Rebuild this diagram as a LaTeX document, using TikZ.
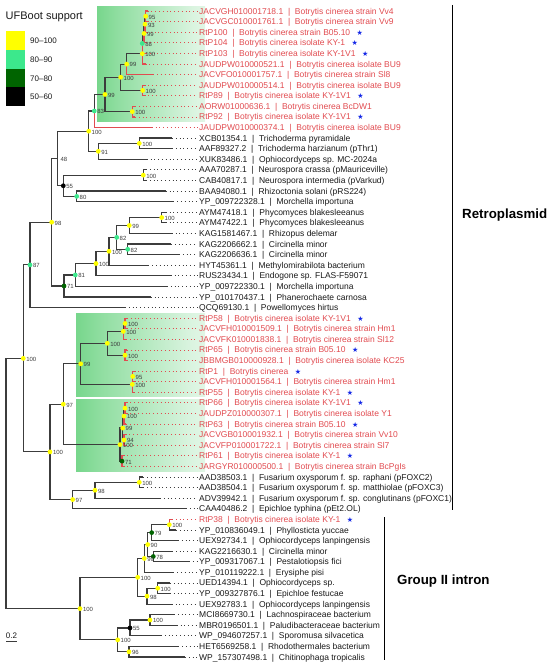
\documentclass[tikz,border=0pt]{standalone}
\usepackage{fontspec}
\setmainfont{Liberation Sans}
\newfontfamily\symf{DejaVu Sans}
\usetikzlibrary{calc}
\definecolor{redc}{RGB}{225,75,80}
\definecolor{brc}{RGB}{60,60,60}
\definecolor{txtc}{RGB}{25,25,25}
\definecolor{yel}{RGB}{255,255,0}
\definecolor{aqua}{RGB}{60,232,140}
\definecolor{dgreen}{RGB}{0,100,0}
\definecolor{boxg}{RGB}{55,195,85}
\colorlet{boxm}{boxg!55!white}
\colorlet{boxl}{boxg!18!white}
\definecolor{starc}{RGB}{20,40,230}
\pgfdeclarehorizontalshading{fadeg}{100bp}{color(0bp)=(boxg); color(35bp)=(boxm); color(70bp)=(boxl); color(100bp)=(white)}
\newcommand\lfont{\fontsize{8.5}{9}\selectfont}
\newcommand\nfont{\fontsize{6}{6}\selectfont}
\newcommand\rstar{\hspace{6.5pt}{\symf\fontsize{7}{7}\selectfont\textcolor{starc}{★}}}
\tikzset{
 br/.style={line width=1.2pt, draw=brc},
 rbr/.style={line width=1.2pt, draw=redc},
 dots/.style={draw=brc, line width=0.8pt, dash pattern=on 0.9pt off 2.9pt},
 rdots/.style={dots, draw=redc},
 lab/.style={anchor=west, inner sep=0pt, font=\lfont, text=txtc, text height=6.1pt, text depth=0pt},
 rlab/.style={lab, text=redc},
 dotn/.style={circle, inner sep=0pt, minimum size=4.8pt, draw=none},
 nlab/.style={anchor=west, inner sep=0pt, font=\nfont, text=brc},
 clade/.style={anchor=west, inner sep=0pt, font=\fontsize{13.3}{14}\selectfont\bfseries, text=black},
 bar/.style={line width=1.5pt, draw=black},
 hbox/.style={shading=fadeg, shading angle=0}
}
\newcommand\lfR[5]{\coordinate (p#1) at (#2,#3); \node[rlab] (t#1) at (199,#3) {#5}; \draw[rdots] (p#1) -- ([xshift=-1.5pt]t#1.west); \draw[rbr] (#4) |- (p#1);}
\newcommand\lfB[5]{\coordinate (p#1) at (#2,#3); \node[lab] (t#1) at (199,#3) {#5}; \draw[dots] (p#1) -- ([xshift=-1.5pt]t#1.west); \draw[br] (#4) |- (p#1);}
\newcommand\nd[3]{\node[dotn, fill=#2] at (#1) {}; \node[nlab] at ([shift={(2.8,0.8)}]#1) {#3};}
\begin{document}
\begin{tikzpicture}[x=1pt,y=-1pt]
\useasboundingbox (0,0) rectangle (550,668);
% highlight boxes
\shade[hbox] (97,7) rectangle (205,122);
\shade[hbox] (76,313) rectangle (205,396);
\shade[hbox] (76,399) rectangle (205,471);
% legend
\node[anchor=west, inner sep=0pt, font=\fontsize{11}{12}\selectfont, text=txtc] (legt) at (5.5,17) {UFBoot support};
\fill[yel] (6,31) rectangle (25,50);
\fill[aqua] (6,50) rectangle (25,69);
\fill[dgreen] (6,69) rectangle (25,87.5);
\fill[black] (6,87.5) rectangle (25,106);
\node[anchor=west, inner sep=0pt, font=\fontsize{8}{8}\selectfont, text=txtc] (lg1) at (30,41) {90–100};
\node[anchor=west, inner sep=0pt, font=\fontsize{8}{8}\selectfont, text=txtc] (lg2) at (30,60) {80–90};
\node[anchor=west, inner sep=0pt, font=\fontsize{8}{8}\selectfont, text=txtc] (lg3) at (30,78.5) {70–80};
\node[anchor=west, inner sep=0pt, font=\fontsize{8}{8}\selectfont, text=txtc] (lg4) at (30,97) {50–60};
% internal nodes
\coordinate (n95) at (145.7,16.30);
\coordinate (n93) at (145.0,24.24);
\coordinate (n99a) at (144.0,33.51);
\coordinate (n88) at (142.3,43.44);
\coordinate (n100a) at (142.3,53.70);
\coordinate (n99b) at (126.7,64.13);
\coordinate (n100b) at (142.7,90.44);
\coordinate (n100c) at (120.7,77.28);
\coordinate (n100d) at (132.3,111.62);
\coordinate (n99c) at (105.0,94.45);
\coordinate (n83) at (94.3,110.98);
\coordinate (n100e) at (139.3,143.40);
\coordinate (n91) at (98.3,151.34);
\coordinate (n100f) at (88.7,131.16);
\coordinate (n100g) at (143.3,175.17);
\coordinate (n80) at (76.7,196.36);
\coordinate (n55) at (63.3,185.76);
\coordinate (n48) at (57.5,158.46);
\coordinate (n100h) at (161.7,217.54);
\coordinate (n99d) at (129.3,225.48);
\coordinate (n82b) at (127.7,249.31);
\coordinate (n82a) at (116.7,237.40);
\coordinate (n100i) at (109.0,251.30);
\coordinate (n100j) at (96.0,263.54);
\coordinate (n81) at (75.3,274.96);
\coordinate (n71) at (64.0,285.97);
\coordinate (n98) at (51.7,222.22);
\coordinate (n87) at (30.0,264.89);
\coordinate (n100k) at (125.0,323.46);
\coordinate (n100l) at (123.3,331.40);
\coordinate (n100m) at (125.0,355.23);
\coordinate (n100n) at (107.3,343.31);
\coordinate (n95b) at (132.7,376.41);
\coordinate (n100o) at (132.3,384.36);
\coordinate (n99e) at (80.7,363.84);
\coordinate (nA) at (125.0,408.19);
\coordinate (nB) at (124.0,416.13);
\coordinate (nC) at (124.0,439.96);
\coordinate (n99f) at (122.7,428.05);
\coordinate (n71b) at (122.0,461.15);
\coordinate (n100p) at (120.0,444.60);
\coordinate (n97a) at (63.3,404.22);
\coordinate (n100q) at (139.3,482.33);
\coordinate (n98b) at (95.0,490.27);
\coordinate (n97b) at (72.7,499.54);
\coordinate (n100r) at (50.0,451.88);
\coordinate (n100s) at (23.3,358.39);
\coordinate (n100t) at (169.3,524.69);
\coordinate (n79) at (151.7,532.63);
\coordinate (n78) at (153.3,556.46);
\coordinate (n90) at (147.7,544.55);
\coordinate (n99g) at (144.3,558.45);
\coordinate (n100u) at (157.7,588.23);
\coordinate (n98c) at (147.0,596.17);
\coordinate (n100v) at (137.7,577.31);
\coordinate (n100w) at (150.0,620.00);
\coordinate (n55b) at (130.0,627.95);
\coordinate (n96) at (129.0,651.78);
\coordinate (n100x) at (117.7,639.87);
\coordinate (n100y) at (80.0,608.59);
\coordinate (root) at (6.0,483.49);
% internal edges
\foreach \c/\p in {n95/n93,n93/n99a,n99a/n88,n88/n100a,n100a/n99b,n99b/n100c,n100b/n100c,n100c/n99c,n100d/n99c,n99c/n83,n83/n100f,n100e/n91,n91/n100f,n100f/n48,n100g/n55,n80/n55,n55/n48,n48/n98,n100h/n99d,n99d/n82a,n82b/n82a,n82a/n100i,n100i/n100j,n100j/n81,n81/n71,n71/n98,n98/n87,n87/n100s,n100k/n100l,n100l/n100n,n100m/n100n,n100n/n99e,n95b/n100o,n100o/n99e,n99e/n97a,nA/nB,nB/n99f,nC/n99f,n99f/n100p,n71b/n100p,n100p/n97a,n97a/n100r,n100q/n98b,n98b/n97b,n97b/n100r,n100r/n100s,n100s/root,n100t/n79,n79/n90,n78/n90,n90/n99g,n99g/n100v,n100u/n98c,n98c/n100v,n100v/n100y,n100w/n55b,n55b/n100x,n96/n100x,n100x/n100y,n100y/root}
  \draw[br] (\p) |- (\c);
% leaves
\lfR{1}{147.5}{11.00}{n95}{JACVGH010001718.1~~|~~Botrytis cinerea strain Vv4}
\lfR{2}{147.5}{21.59}{n95}{JACVGC010001761.1~~|~~Botrytis cinerea strain Vv9}
\lfR{3}{147}{32.18}{n93}{RtP100~~|~~Botrytis cinerea strain B05.10\rstar}
\lfR{4}{146}{42.78}{n99a}{RtP104~~|~~Botrytis cinerea isolate KY-1\rstar}
\lfR{5}{146}{53.37}{n88}{RtP103~~|~~Botrytis cinerea isolate KY-1V1\rstar}
\lfR{6}{145.5}{63.96}{n100a}{JAUDPW010000521.1~~|~~Botrytis cinerea isolate BU9}
\lfR{7}{153.3}{74.55}{n99b}{JACVFO010001757.1~~|~~Botrytis cinerea strain Sl8}
\lfR{8}{144.5}{85.14}{n100b}{JAUDPW010000514.1~~|~~Botrytis cinerea isolate BU9}
\lfR{9}{144.5}{95.73}{n100b}{RtP89~~|~~Botrytis cinerea isolate KY-1V1\rstar}
\lfR{10}{135}{106.33}{n100d}{AORW01000636.1~~|~~Botrytis cinerea BcDW1}
\lfR{11}{135}{116.92}{n100d}{RtP92~~|~~Botrytis cinerea isolate KY-1V1\rstar}
\lfR{12}{151.7}{127.51}{n83}{JAUDPW010000374.1~~|~~Botrytis cinerea isolate BU9}
\lfB{13}{172}{138.10}{n100e}{XCB01354.1~~|~~Trichoderma pyramidale}
\lfB{14}{172}{148.69}{n100e}{AAF89327.2~~|~~Trichoderma harzianum (pThr1)}
\lfB{15}{146.7}{159.28}{n91}{XUK83486.1~~|~~Ophiocordyceps sp. MC-2024a}
\lfB{16}{146}{169.88}{n100g}{AAA70287.1~~|~~Neurospora crassa (pMauriceville)}
\lfB{17}{146}{180.47}{n100g}{CAB40817.1~~|~~Neurospora intermedia (pVarkud)}
\lfB{18}{165.7}{191.06}{n80}{BAA94080.1~~|~~Rhizoctonia solani (pRS224)}
\lfB{19}{173.3}{201.65}{n80}{YP\_009722328.1~~|~~Morchella importuna}
\lfB{20}{165.7}{212.24}{n100h}{AYM47418.1~~|~~Phycomyces blakesleeanus}
\lfB{21}{165.7}{222.83}{n100h}{AYM47422.1~~|~~Phycomyces blakesleeanus}
\lfB{22}{171.7}{233.43}{n99d}{KAG1581467.1~~|~~Rhizopus delemar}
\lfB{23}{171}{244.02}{n82b}{KAG2206662.1~~|~~Circinella minor}
\lfB{24}{179}{254.61}{n82b}{KAG2206636.1~~|~~Circinella minor}
\lfB{25}{148.3}{265.20}{n100i}{HYT45361.1~~|~~Methylomirabilota bacterium}
\lfB{26}{170.7}{275.79}{n100j}{RUS23434.1~~|~~Endogone sp. FLAS-F59071}
\lfB{27}{167}{286.38}{n81}{YP\_009722330.1~~|~~Morchella importuna}
\lfB{28}{150.7}{296.98}{n71}{YP\_010170437.1~~|~~Phanerochaete carnosa}
\lfB{29}{125}{307.57}{n87}{QCQ69130.1~~|~~Powellomyces hirtus}
\lfR{30}{127}{318.16}{n100k}{RtP58~~|~~Botrytis cinerea isolate KY-1V1\rstar}
\lfR{31}{127}{328.75}{n100k}{JACVFH010001509.1~~|~~Botrytis cinerea strain Hm1}
\lfR{32}{126}{339.34}{n100l}{JACVFK010001838.1~~|~~Botrytis cinerea strain Sl12}
\lfR{33}{127}{349.93}{n100m}{RtP65~~|~~Botrytis cinerea strain B05.10\rstar}
\lfR{34}{127}{360.52}{n100m}{JBBMGB010000928.1~~|~~Botrytis cinerea isolate KC25}
\lfR{35}{134.5}{371.11}{n95b}{RtP1~~|~~Botrytis cinerea\rstar}
\lfR{36}{134.5}{381.71}{n95b}{JACVFH010001564.1~~|~~Botrytis cinerea strain Hm1}
\lfR{37}{134}{392.30}{n100o}{RtP55~~|~~Botrytis cinerea isolate KY-1\rstar}
\lfR{38}{126.5}{402.89}{nA}{RtP66~~|~~Botrytis cinerea isolate KY-1V1\rstar}
\lfR{39}{126.5}{413.48}{nA}{JAUDPZ010000307.1~~|~~Botrytis cinerea isolate Y1}
\lfR{40}{126}{424.07}{nB}{RtP63~~|~~Botrytis cinerea strain B05.10\rstar}
\lfR{41}{125.5}{434.66}{nC}{JACVGB010001932.1~~|~~Botrytis cinerea strain Vv10}
\lfR{42}{125.5}{445.26}{nC}{JACVFP010001722.1~~|~~Botrytis cinerea strain Sl7}
\lfR{43}{123.5}{455.85}{n71b}{RtP61~~|~~Botrytis cinerea isolate KY-1\rstar}
\lfR{44}{123.5}{466.44}{n71b}{JARGYR010000500.1~~|~~Botrytis cinerea strain BcPgIs}
\lfB{45}{143.3}{477.03}{n100q}{AAD38503.1~~|~~Fusarium oxysporum f. sp. raphani (pFOXC2)}
\lfB{46}{143.3}{487.62}{n100q}{AAD38504.1~~|~~Fusarium oxysporum f. sp. matthiolae (pFOXC3)}
\lfB{47}{160}{498.21}{n98b}{ADV39942.1~~|~~Fusarium oxysporum f. sp. conglutinans (pFOXC1)}
\lfB{48}{186}{508.80}{n97b}{CAA40486.2~~|~~Epichloe typhina (pEt2.OL)}
\lfR{49}{172}{519.39}{n100t}{RtP38~~|~~Botrytis cinerea isolate KY-1\rstar}
\lfB{50}{176}{529.98}{n100t}{YP\_010836049.1~~|~~Phyllosticta yuccae}
\lfB{51}{178}{540.57}{n79}{UEX92734.1~~|~~Ophiocordyceps lanpingensis}
\lfB{52}{172}{551.16}{n78}{KAG2216630.1~~|~~Circinella minor}
\lfB{53}{189}{561.75}{n78}{YP\_009317067.1~~|~~Pestalotiopsis fici}
\lfB{54}{173.3}{572.34}{n99g}{YP\_010119222.1~~|~~Erysiphe pisi}
\lfB{55}{170}{582.93}{n100u}{UED14394.1~~|~~Ophiocordyceps sp.}
\lfB{56}{170}{593.52}{n100u}{YP\_009327876.1~~|~~Epichloe festucae}
\lfB{57}{171.7}{604.11}{n98c}{UEX92783.1~~|~~Ophiocordyceps lanpingensis}
\lfB{58}{174}{614.70}{n100w}{MCI8669730.1~~|~~Lachnospiraceae bacterium}
\lfB{59}{176.7}{625.30}{n100w}{MBR0196501.1~~|~~Paludibacteraceae bacterium}
\lfB{60}{161}{635.89}{n55b}{WP\_094607257.1~~|~~Sporomusa silvacetica}
\lfB{61}{178.3}{646.48}{n96}{HET6569258.1~~|~~Rhodothermales bacterium}
\lfB{62}{185}{657.07}{n96}{WP\_157307498.1~~|~~Chitinophaga tropicalis}
% support dots and labels
\nd{n95}{yel}{95} \nd{n93}{yel}{93} \nd{n99a}{yel}{99} \nd{n88}{aqua}{88}
\nd{n100a}{yel}{100} \nd{n99b}{yel}{99} \nd{n100b}{yel}{100} \nd{n100c}{yel}{100}
\nd{n100d}{yel}{100} \nd{n99c}{yel}{99} \nd{n83}{aqua}{83} \nd{n100e}{yel}{100}
\nd{n91}{yel}{91} \nd{n100f}{yel}{100} \nd{n100g}{yel}{100} \nd{n80}{aqua}{80}
\nd{n55}{black}{55}
\node[nlab] at ([shift={(2.8,0.8)}]n48) {48};
\nd{n100h}{yel}{100} \nd{n99d}{yel}{99} \nd{n82b}{aqua}{82} \nd{n82a}{aqua}{82}
\nd{n100i}{yel}{100} \nd{n100j}{yel}{100} \nd{n81}{aqua}{81} \nd{n71}{dgreen}{71}
\nd{n98}{yel}{98} \nd{n87}{aqua}{87}
\nd{n100k}{yel}{100} \nd{n100l}{yel}{100} \nd{n100m}{yel}{100} \nd{n100n}{yel}{100}
\nd{n95b}{yel}{95} \nd{n100o}{yel}{100} \nd{n99e}{yel}{99}
\nd{nA}{yel}{100} \nd{nB}{yel}{100} \nd{nC}{yel}{94} \nd{n99f}{yel}{99}
\nd{n71b}{dgreen}{71} \nd{n100p}{yel}{100} \nd{n97a}{yel}{97}
\nd{n100q}{yel}{100} \nd{n98b}{yel}{98} \nd{n97b}{yel}{97} \nd{n100r}{yel}{100} \nd{n100s}{yel}{100}
\nd{n100t}{yel}{100} \nd{n79}{dgreen}{79} \nd{n78}{dgreen}{78} \nd{n90}{yel}{90}
\nd{n99g}{yel}{99} \nd{n100u}{yel}{100} \nd{n98c}{yel}{98} \nd{n100v}{yel}{100}
\nd{n100w}{yel}{100} \nd{n55b}{black}{55} \nd{n96}{yel}{96} \nd{n100x}{yel}{100} \nd{n100y}{yel}{100}
% scale bar
\node[anchor=center, inner sep=0pt, font=\fontsize{8}{8}\selectfont, text=txtc] (sc) at (11.5,636) {0.2};
\coordinate (sb1) at (6,641); \coordinate (sb2) at (17,641);
\draw[line width=0.8pt, brc] (sb1) -- (sb2);
% clade bars
\coordinate (rb1) at (452.3,5); \coordinate (rb2) at (452.3,510);
\draw[bar] (rb1) -- (rb2);
\node[clade] (retro) at (462,215) {Retroplasmid};
\coordinate (gb1) at (384.3,517); \coordinate (gb2) at (384.3,660);
\draw[bar] (gb1) -- (gb2);
\node[clade] (grp) at (397,580.7) {Group II intron};
\end{tikzpicture}
\end{document}
